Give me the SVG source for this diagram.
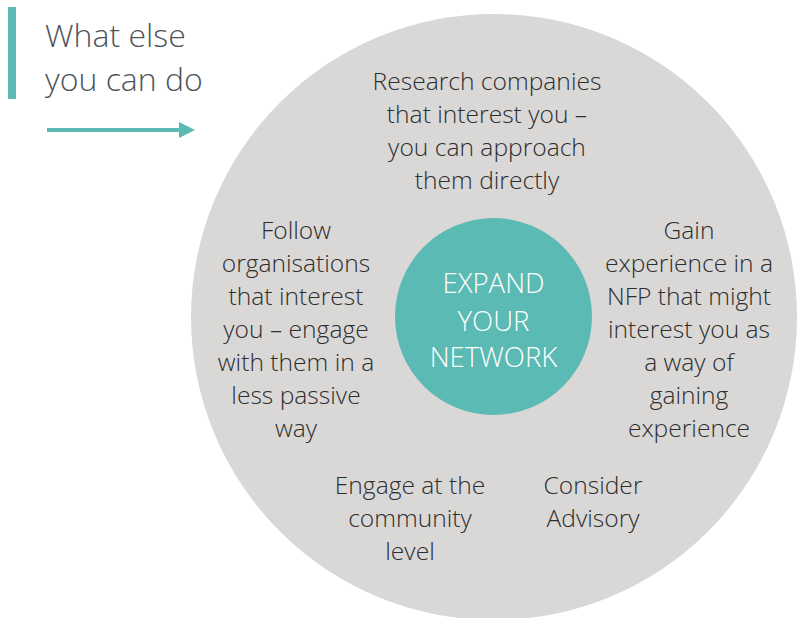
<svg xmlns="http://www.w3.org/2000/svg" width="804" height="618" viewBox="0 0 804 618">
<style>
.body{font-family:"Open Sans","Liberation Sans",sans-serif;font-weight:300;font-size:24.6px;fill:#2e2e2e;text-anchor:middle}
.title{font-family:"Open Sans","Liberation Sans",sans-serif;font-weight:300;font-size:32px;fill:#4d535b}
.center{font-family:"Open Sans","Liberation Sans",sans-serif;font-weight:300;font-size:27.6px;fill:#ffffff;text-anchor:middle}
</style>
<defs>
<marker id="ah" markerWidth="4" markerHeight="4" refX="1" refY="2" orient="auto" markerUnits="strokeWidth">
<path d="M0,0 L4,2 L0,4 Z" fill="#5bbab3"/>
</marker>
</defs>
<rect width="804" height="618" fill="#ffffff"/>
<g id="header">
<rect x="8" y="7" width="8" height="92" fill="#5bbab3"/>
<text class="title" x="45" y="47">What else</text>
<text class="title" x="45" y="91">you can do</text>
</g>
<g id="connectors">
<line x1="47" y1="130" x2="183" y2="130" stroke="#5bbab3" stroke-width="4" marker-end="url(#ah)"/>
</g>
<g id="outer">
<circle cx="494" cy="317" r="303" fill="#d9d8d7"/>
</g>
<g id="research">
<text class="body" x="487" y="90">Research companies</text>
<text class="body" x="487" y="123">that interest you –</text>
<text class="body" x="487" y="156">you can approach</text>
<text class="body" x="487" y="189">them directly</text>
</g>
<g id="follow">
<text class="body" x="296" y="239">Follow</text>
<text class="body" x="296" y="272">organisations</text>
<text class="body" x="296" y="305">that interest</text>
<text class="body" x="296" y="338">you – engage</text>
<text class="body" x="296" y="371">with them in a</text>
<text class="body" x="296" y="404">less passive</text>
<text class="body" x="296" y="437">way</text>
</g>
<g id="gain">
<text class="body" x="689" y="239">Gain</text>
<text class="body" x="689" y="272">experience in a</text>
<text class="body" x="689" y="305">NFP that might</text>
<text class="body" x="689" y="338">interest you as</text>
<text class="body" x="689" y="371">a way of</text>
<text class="body" x="689" y="404">gaining</text>
<text class="body" x="689" y="437">experience</text>
</g>
<g id="engage">
<text class="body" x="410" y="494">Engage at the</text>
<text class="body" x="410" y="527">community</text>
<text class="body" x="410" y="560">level</text>
</g>
<g id="consider">
<text class="body" x="593" y="494">Consider</text>
<text class="body" x="593" y="527">Advisory</text>
</g>
<g id="expand">
<circle cx="493.5" cy="316.5" r="98.5" fill="#5bbab3"/>
<text class="center" x="493.5" y="293">EXPAND</text>
<text class="center" x="493.5" y="331">YOUR</text>
<text class="center" x="493.5" y="367">NETWORK</text>
</g>
</svg>
